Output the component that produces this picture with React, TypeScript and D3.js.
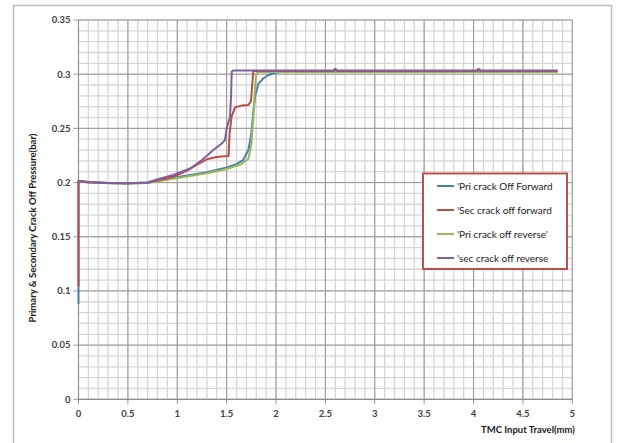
import React from "react";
import * as d3 from "d3";

// travel (mm) / pressure (bar) readings per series
const priFwdX = [0, 0, 0.1, 0.3, 0.5, 0.7, 0.9, 1.1, 1.3, 1.5, 1.6, 1.67, 1.72, 1.75, 1.77, 1.79, 1.82, 1.87, 1.92, 2.0, 2.1, 4.85];
const priFwdY = [0.088, 0.2015, 0.2005, 0.1995, 0.1993, 0.1998, 0.2035, 0.2065, 0.2095, 0.214, 0.217, 0.221, 0.23, 0.245, 0.265, 0.28, 0.291, 0.296, 0.299, 0.3015, 0.3025, 0.3025];

const secFwdX = [0, 0, 0.1, 0.3, 0.5, 0.7, 0.9, 1.0, 1.1, 1.2, 1.3, 1.4, 1.45, 1.52, 1.53, 1.55, 1.585, 1.65, 1.72, 1.745, 1.77, 1.787, 2.58, 2.6, 2.62, 4.03, 4.05, 4.07, 4.85];
const secFwdY = [0.104, 0.2015, 0.2005, 0.1995, 0.1993, 0.2, 0.204, 0.207, 0.211, 0.2165, 0.2215, 0.2235, 0.224, 0.2245, 0.245, 0.2608, 0.2694, 0.271, 0.2716, 0.2746, 0.3023, 0.303, 0.303, 0.305, 0.303, 0.303, 0.305, 0.303, 0.303];

const priRevX = [0, 0.1, 0.3, 0.5, 0.7, 0.9, 1.1, 1.3, 1.5, 1.65, 1.72, 1.75, 1.77, 1.785, 1.8, 1.82, 4.85];
const priRevY = [0.2015, 0.2, 0.1993, 0.199, 0.1995, 0.2025, 0.2055, 0.2085, 0.2125, 0.217, 0.222, 0.235, 0.26, 0.285, 0.3, 0.302, 0.302];

const secRevX = [0, 0.1, 0.3, 0.5, 0.7, 0.8, 0.96, 1.13, 1.25, 1.365, 1.45, 1.483, 1.5, 1.534, 1.545, 1.551, 1.568, 4.85];
const secRevY = [0.2015, 0.2, 0.1995, 0.1993, 0.2, 0.203, 0.207, 0.213, 0.2208, 0.23, 0.236, 0.2392, 0.25, 0.2608, 0.28, 0.3023, 0.3035, 0.3035];

const seriesNames = ["'Pri crack Off Forward", "'Sec crack off forward", "'Pri crack off reverse'", "'sec crack off reverse"];
const seriesColors = ["#4a7ebb", "#be4b48", "#98b954", "#7d60a0"];

const xTicks = [0, 0.5, 1, 1.5, 2, 2.5, 3, 3.5, 4, 4.5, 5];
const yTicks = [0, 0.05, 0.1, 0.15, 0.2, 0.25, 0.3, 0.35];

const W = 620;
const H = 443;

export default function App() {
  const x = d3.scaleLinear().domain([0, 5]).range([78.5, 572.3]);
  const y = d3.scaleLinear().domain([0, 0.35]).range([399.3, 20]);

  const xs = [priFwdX, secFwdX, priRevX, secRevX];
  const ys = [priFwdY, secFwdY, priRevY, secRevY];

  const line = d3
    .line<[number, number]>()
    .x((d) => x(d[0]))
    .y((d) => y(d[1]));

  const minorX = d3.range(0, 51).map((i) => i / 10);
  const minorY = d3.range(0, 36).map((i) => i / 100);

  const font = "Lato, 'Open Sans', sans-serif";
  // draw order: forward primary first, purple on top like the original
  const order = [0, 2, 1, 3];

  return (
    <div style={{ position: "absolute", left: 0, top: 0 }}>
      <svg width={W} height={H} style={{ display: "block", background: "#fff" }}>
        <rect x={13.5} y={5.5} width={598} height={445} fill="#fff" stroke="#bdbdbd" strokeWidth={1.5} />

        {/* minor grid */}
        {minorX.map((v, i) => (
          <line key={"mx" + i} x1={x(v)} x2={x(v)} y1={y(0.35)} y2={y(0)} stroke="#d6d6d6" strokeWidth={1.3} />
        ))}
        {minorY.map((v, i) => (
          <line key={"my" + i} x1={x(0)} x2={x(5)} y1={y(v)} y2={y(v)} stroke="#d6d6d6" strokeWidth={1.3} />
        ))}
        {/* major grid */}
        {xTicks.map((v, i) => (
          <line key={"gx" + i} x1={x(v)} x2={x(v)} y1={y(0.35)} y2={y(0) + 5} stroke="#999" strokeWidth={1} />
        ))}
        {yTicks.map((v, i) => (
          <line key={"gy" + i} x1={x(0) - 5} x2={x(5)} y1={y(v)} y2={y(v)} stroke="#999" strokeWidth={1} />
        ))}
        <line x1={x(0)} x2={x(0)} y1={y(0.35)} y2={y(0)} stroke="#888" />
        <line x1={x(0)} x2={x(5)} y1={y(0)} y2={y(0)} stroke="#888" />

        {/* tick labels */}
        {yTicks.map((v, i) => (
          <text key={"yl" + i} x={x(0) - 8} y={y(v)} dy="0.35em" textAnchor="end" fontFamily={font} fontWeight="bold" fontSize={9.5} fill="#404040">
            {d3.format("~g")(v)}
          </text>
        ))}
        {xTicks.map((v, i) => (
          <text key={"xl" + i} x={x(v)} y={y(0) + 14} dy="0.35em" textAnchor="middle" fontFamily={font} fontWeight="bold" fontSize={9.5} fill="#404040">
            {d3.format("~g")(v)}
          </text>
        ))}

        {/* series */}
        {order.map((k) => (
          <path
            key={"s" + k}
            d={line(xs[k].map((v, i) => [v, ys[k][i]] as [number, number])) || ""}
            fill="none"
            stroke={seriesColors[k]}
            strokeWidth={2}
            strokeLinejoin="round"
          />
        ))}

        {/* axis titles */}
        <text x={528} y={430} dy="0.35em" textAnchor="middle" fontFamily={font} fontWeight="bold" fontSize={9.5} fill="#1a1a1a">
          TMC Input  Travel(mm)
        </text>
        <text
          transform="translate(33,228) rotate(-90)"
          dy="0.35em"
          textAnchor="middle"
          fontFamily={font}
          fontWeight="bold"
          fontSize={9.5}
          fill="#1a1a1a"
        >
          Primary &amp; Secondary  Crack Off Pressure(bar)
        </text>

        {/* legend */}
        <rect x={423} y={173.5} width={144} height={95.5} fill="#fff" stroke="#c0504d" strokeWidth={2} />
        {seriesNames.map((n, i) => {
          const ly = 186 + i * 24;
          return (
            <g key={"lg" + i}>
              <line x1={437} x2={454} y1={ly} y2={ly} stroke={seriesColors[i]} strokeWidth={2} />
              <text x={457} y={ly} dy="0.35em" fontFamily={font} fontSize={10} fill="#1a1a1a">
                {n}
              </text>
            </g>
          );
        })}
      </svg>
    </div>
  );
}
